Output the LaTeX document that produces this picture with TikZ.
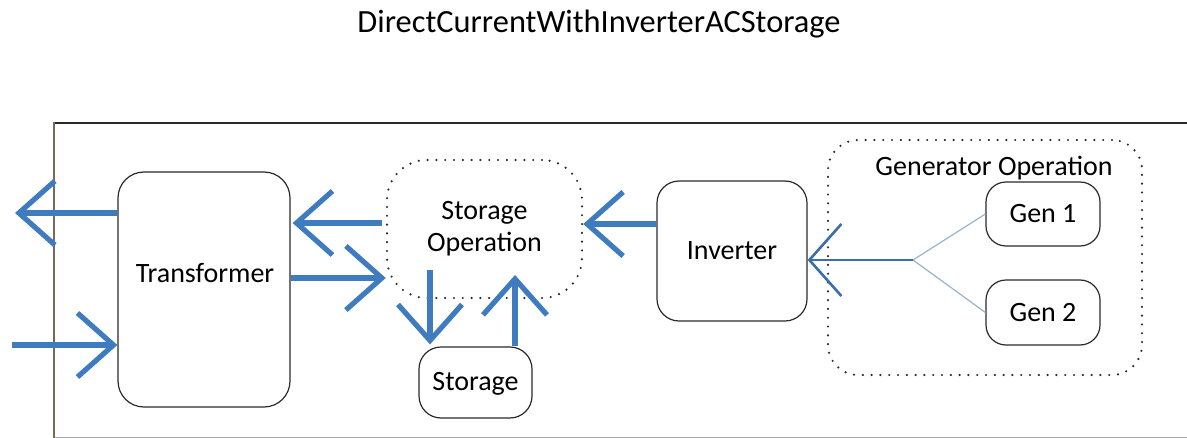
\documentclass[tikz,border=0pt]{standalone}
\usepackage{fontspec}
\setmainfont{Carlito}
\usepackage{tikz}
\usetikzlibrary{arrows.meta,positioning,calc}
\definecolor{flowblue}{HTML}{3F7CBF}
\definecolor{linkblue}{HTML}{3A6EA8}
\definecolor{wireblue}{HTML}{98B4C8}
\definecolor{frameink}{HTML}{7A6858}
\definecolor{boxink}{HTML}{2A2A2A}
\tikzset{
  boxfont/.style={font=\fontsize{14}{16}\selectfont},
  block/.style={draw=boxink,line width=0.6pt,rounded corners=11pt,inner sep=0pt,boxfont},
  group/.style={draw=boxink,line width=1.2pt,dash pattern=on 0pt off 4.4pt,line cap=round,inner sep=0pt,align=center,boxfont},
  flow/.style={flowblue,line width=2.6pt,-{Straight Barb[length=18pt,width=32pt,line width=2.6pt]}},
  feed/.style={linkblue,line width=1.3pt,-{Straight Barb[length=16pt,width=36pt,line width=1.3pt]}},
  wire/.style={wireblue,line width=0.6pt}
}
\begin{document}
\begin{tikzpicture}[x=0.5pt,y=-0.5pt]
  \useasboundingbox (0,0) rectangle (1187,438);
  \node[font=\fontsize{16.2}{19}\selectfont] (title) at (599,24) {DirectCurrentWithInverterACStorage};
  % frame
  \draw[black!35,line width=0.5pt] (54,437) -- (1187,437);
  \draw[boxink,line width=0.8pt] (54,123) -- (1187,123);
  \draw[frameink,line width=1pt] (54,438) -- (54,122);
  % blocks
  \node[block,minimum width=86pt,minimum height=117.5pt,rounded corners=13pt] (trafo) at (204,289.5) {};
  \node[boxfont] (trafolabel) at (205,273) {Transformer};
  \node[group,rounded corners=20pt,minimum width=97.5pt,minimum height=69pt] (storop) at (484.5,229) {Storage\\Operation};
  \node[block,minimum width=56.5pt,minimum height=35.5pt,text depth=1pt] (storage) at (475.5,382.5) {Storage};
  \node[block,minimum width=75pt,minimum height=70pt] (inv) at (732,251) {Inverter};
  \node[group,rounded corners=15pt,minimum width=157pt,minimum height=117.5pt] (genop) at (985,257.5) {};
  \node[boxfont] (genoplabel) at (994,168) {Generator Operation};
  \node[block,rounded corners=10pt,minimum width=57pt,minimum height=32pt] (gen1) at (1043,214) {Gen 1};
  \node[block,rounded corners=10pt,minimum width=57pt,minimum height=32.5pt] (gen2) at (1043,312.5) {Gen 2};
  % free ends
  \coordinate (gridout) at (15,213);
  \coordinate (gridin) at (12,345);
  \coordinate (dnstart) at (430,270);
  \coordinate (uptip) at (515,275);
  \coordinate (merge) at (913,260);
  % flows
  \draw[flow] (trafo.west |- gridout) -- (gridout);
  \draw[flow] (gridin) -- (gridin -| trafo.west);
  \draw[flow] ([xshift=-2pt]storop.west |- 0,223) -- ([xshift=1pt]trafo.east |- 0,223);
  \draw[flow] (trafo.east |- 0,278) -- (storop.west |- 0,278);
  \draw[flow] (dnstart) -- ([yshift=1pt]storage.north -| dnstart);
  \draw[flow] (storage.north -| uptip) -- (uptip);
  \draw[flow] (inv.west |- 0,224) -- (storop.east |- 0,224);
  \draw[wire] (merge) -- (gen1.west);
  \draw[wire] (merge) -- (gen2.west);
  \draw[feed] (merge) -- (inv.east |- merge);
\end{tikzpicture}
\end{document}
